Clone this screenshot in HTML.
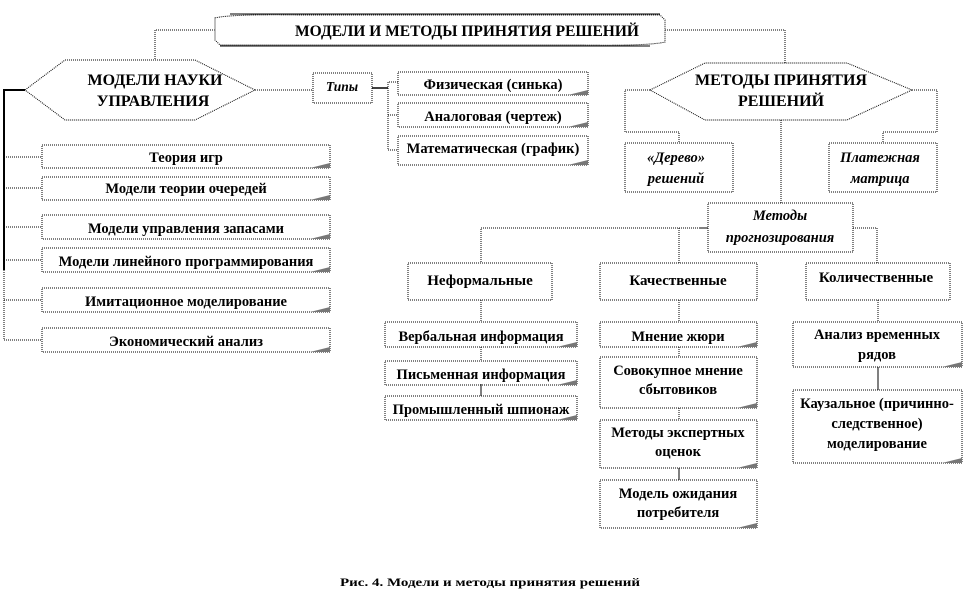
<!DOCTYPE html>
<html><head><meta charset="utf-8"><style>
html,body{margin:0;padding:0;background:#fff;}
svg{display:block;font-family:"Liberation Serif",serif;font-weight:bold;}
</style></head><body>
<svg width="964" height="602" viewBox="0 0 964 602" xmlns="http://www.w3.org/2000/svg">
<g fill="none" stroke="#000" stroke-width="1">
<g stroke-dasharray="1,1">
<polyline points="215,30 155,30 155,60"/>
<polyline points="665,30 785,30 785,63"/>
<line x1="255" y1="90" x2="313" y2="90"/>
<polyline points="398,82 388,82 388,150 398,150"/>
<line x1="388" y1="115" x2="398" y2="115"/>
<line x1="4" y1="157" x2="42" y2="157"/>
<line x1="4" y1="188" x2="42" y2="188"/>
<line x1="4" y1="227" x2="42" y2="227"/>
<line x1="4" y1="260" x2="42" y2="260"/>
<line x1="4" y1="300" x2="42" y2="300"/>
<line x1="4" y1="340" x2="42" y2="340"/>
<polyline points="4,270 4,340"/>
<polyline points="650,90 625,90 625,132 679,132 679,143"/>
<polyline points="912,90 937,90 937,132 883,132 883,143"/>
<line x1="781" y1="120" x2="781" y2="203"/>
<polyline points="708,228 481,228 481,262"/>
<line x1="679" y1="228" x2="679" y2="263"/>
<polyline points="853,228 877,228 877,263"/>
<line x1="481" y1="300" x2="481" y2="322"/>
<line x1="481" y1="347" x2="481" y2="361"/>
<line x1="679" y1="300" x2="679" y2="322"/>
<line x1="679" y1="347" x2="679" y2="357"/>
<line x1="679" y1="408" x2="679" y2="420"/>
<line x1="878" y1="300" x2="878" y2="322"/>
</g>
<polyline points="25,90 4,90 4,270" stroke-width="2"/>
<line x1="372" y1="88" x2="388" y2="88" stroke-width="1.5"/>
<line x1="708" y1="228" x2="700" y2="228"/>
<line x1="481" y1="384" x2="481" y2="396"/>
<line x1="679" y1="468" x2="679" y2="480"/>
<line x1="878" y1="367" x2="878" y2="390"/>

<path d="M215,18 Q230,14 300,15 L660,15 L665,20 L665,42 Q650,46 580,45 L220,45 L215,40 Z" stroke-dasharray="1,1"/>
<line x1="230" y1="14" x2="660" y2="14"/>
<line x1="220" y1="46" x2="650" y2="46"/>

<polygon points="25,90 65,60 195,60 255,90 195,120 65,120" stroke-dasharray="1,1"/>
<polygon points="650,90 705,63 847,63 912,90 847,120 705,120" stroke-dasharray="1,1"/>

<g stroke-dasharray="1,1">
<rect x="313" y="73" width="59" height="30"/>
<rect x="398" y="72" width="190" height="23"/>
<rect x="398" y="103" width="190" height="24"/>
<rect x="398" y="136" width="190" height="29"/>
<rect x="42" y="145" width="288" height="23"/>
<rect x="42" y="177" width="288" height="23"/>
<rect x="42" y="215" width="288" height="24"/>
<rect x="42" y="248" width="288" height="24"/>
<rect x="42" y="288" width="288" height="24"/>
<rect x="42" y="328" width="288" height="24"/>
<rect x="625" y="143" width="108" height="49"/>
<rect x="829" y="143" width="108" height="49"/>
<rect x="708" y="203" width="145" height="49"/>
<rect x="408" y="263" width="144" height="37"/>
<rect x="600" y="263" width="157" height="37"/>
<rect x="806" y="263" width="144" height="37"/>
<rect x="385" y="322" width="192" height="25"/>
<rect x="385" y="361" width="192" height="24"/>
<rect x="385" y="396" width="192" height="24"/>
<rect x="600" y="322" width="157" height="25"/>
<rect x="600" y="357" width="157" height="51"/>
<rect x="600" y="420" width="157" height="48"/>
<rect x="600" y="480" width="157" height="48"/>
<rect x="793" y="322" width="169" height="45"/>
<rect x="793" y="390" width="169" height="73"/>
</g>
</g>
<g fill="#777">
<path d="M568,95 L588,90 L588,95Z"/><path d="M568,127 L588,122 L588,127Z"/><path d="M568,165 L588,160 L588,165Z"/>
<path d="M310,168 L330,163 L330,168Z"/><path d="M310,200 L330,195 L330,200Z"/><path d="M310,239 L330,234 L330,239Z"/>
<path d="M310,272 L330,267 L330,272Z"/><path d="M310,312 L330,307 L330,312Z"/><path d="M310,352 L330,347 L330,352Z"/>
<path d="M557,347 L577,342 L577,347Z"/><path d="M557,385 L577,380 L577,385Z"/><path d="M557,420 L577,415 L577,420Z"/>
<path d="M737,347 L757,342 L757,347Z"/><path d="M737,408 L757,403 L757,408Z"/><path d="M737,468 L757,463 L757,468Z"/><path d="M737,528 L757,523 L757,528Z"/>
<path d="M942,367 L962,362 L962,367Z"/><path d="M942,463 L962,458 L962,463Z"/>
</g>
<g font-size="14.5" text-anchor="middle" fill="#000">
<text x="467" y="36" font-size="15.5">МОДЕЛИ И МЕТОДЫ ПРИНЯТИЯ РЕШЕНИЙ</text>
<text x="155" y="85" font-size="16">МОДЕЛИ НАУКИ</text>
<text x="153" y="106" font-size="16">УПРАВЛЕНИЯ</text>
<text x="781" y="85" font-size="16">МЕТОДЫ ПРИНЯТИЯ</text>
<text x="781" y="106" font-size="16">РЕШЕНИЙ</text>
<text x="342" y="91" font-style="italic" font-size="13.5">Типы</text>
<text x="493" y="89">Физическая (синька)</text>
<text x="493" y="121">Аналоговая (чертеж)</text>
<text x="493" y="153">Математическая (график)</text>
<text x="186" y="162">Теория игр</text>
<text x="186" y="193">Модели теории очередей</text>
<text x="186" y="233">Модели управления запасами</text>
<text x="186" y="266">Модели линейного программирования</text>
<text x="186" y="306">Имитационное моделирование</text>
<text x="186" y="346">Экономический анализ</text>
<text x="676" y="162" font-style="italic">«Дерево»</text>
<text x="676" y="183" font-style="italic">решений</text>
<text x="880" y="162" font-style="italic">Платежная</text>
<text x="880" y="183" font-style="italic">матрица</text>
<text x="780" y="220" font-style="italic">Методы</text>
<text x="780" y="242" font-style="italic">прогнозирования</text>
<text x="480" y="285" font-size="15">Неформальные</text>
<text x="678" y="285" font-size="15">Качественные</text>
<text x="876" y="282" font-size="15">Количественные</text>
<text x="481" y="341">Вербальная информация</text>
<text x="481" y="379">Письменная информация</text>
<text x="481" y="414">Промышленный шпионаж</text>
<text x="678" y="341">Мнение жюри</text>
<text x="678" y="375">Совокупное мнение</text>
<text x="678" y="394">сбытовиков</text>
<text x="678" y="437">Методы экспертных</text>
<text x="678" y="456">оценок</text>
<text x="678" y="498">Модель ожидания</text>
<text x="678" y="517">потребителя</text>
<text x="877" y="339">Анализ временных</text>
<text x="877" y="359">рядов</text>
<text x="877" y="408">Каузальное (причинно-</text>
<text x="877" y="428">следственное)</text>
<text x="877" y="448">моделирование</text>
<text x="490" y="586" font-size="12" textLength="300" lengthAdjust="spacingAndGlyphs">Рис. 4. Модели и методы принятия решений</text>
</g>
</svg>
</body></html>
